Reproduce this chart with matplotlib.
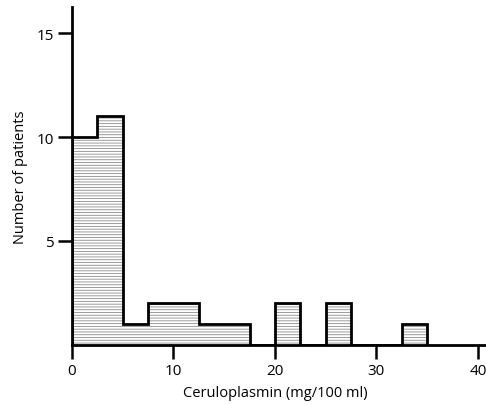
import matplotlib

matplotlib.use("Agg")
import matplotlib.pyplot as plt
import numpy as np

# histogram of ceruloplasmin values (bins 2.5 mg/100 ml wide, gaps are zero)
bin_edges = [0, 2.5, 5, 7.5, 12.5, 17.5, 20, 22.5, 25, 27.5, 32.5, 35]
counts = [10, 11, 1, 2, 1, 0, 2, 0, 2, 0, 1]
x_ticks = [0, 10, 20, 30, 40]
y_ticks = [5, 10, 15]

plt.rcParams["font.family"] = ["Open Sans", "DejaVu Sans"]
plt.rcParams["hatch.linewidth"] = 0.6

fig = plt.figure(figsize=(4.86, 4.06), dpi=100)
ax = fig.add_axes([0.148, 0.148, 0.852, 0.832])

edges = np.array(bin_edges)
vals = np.array(counts, dtype=float)

# grey horizontal shading
ax.stairs(vals, edges, fill=True, facecolor="white", edgecolor="#8c8c8c",
          hatch="------", linewidth=0, zorder=2)
# black outline
ax.stairs(vals, edges, fill=False, color="black", linewidth=2.0,
          baseline=0, zorder=3)

ax.set_xlim(0, 40.8)
ax.set_ylim(0, 16.25)
ax.set_xticks(x_ticks)
ax.set_yticks(y_ticks)

for side in ("top", "right"):
    ax.spines[side].set_visible(False)
for side in ("left", "bottom"):
    ax.spines[side].set_linewidth(2.0)
ax.tick_params(axis="both", direction="out", length=10, width=1.8,
               labelsize=11, pad=3)

ax.set_xlabel("Ceruloplasmin (mg/100 ml)", fontsize=10.5)
ax.set_ylabel("Number of patients", fontsize=10.5)
ax.xaxis.set_label_coords(0.49, -0.12)
ax.yaxis.set_label_coords(-0.105, 0.5)

fig.savefig("out.png", dpi=100)
